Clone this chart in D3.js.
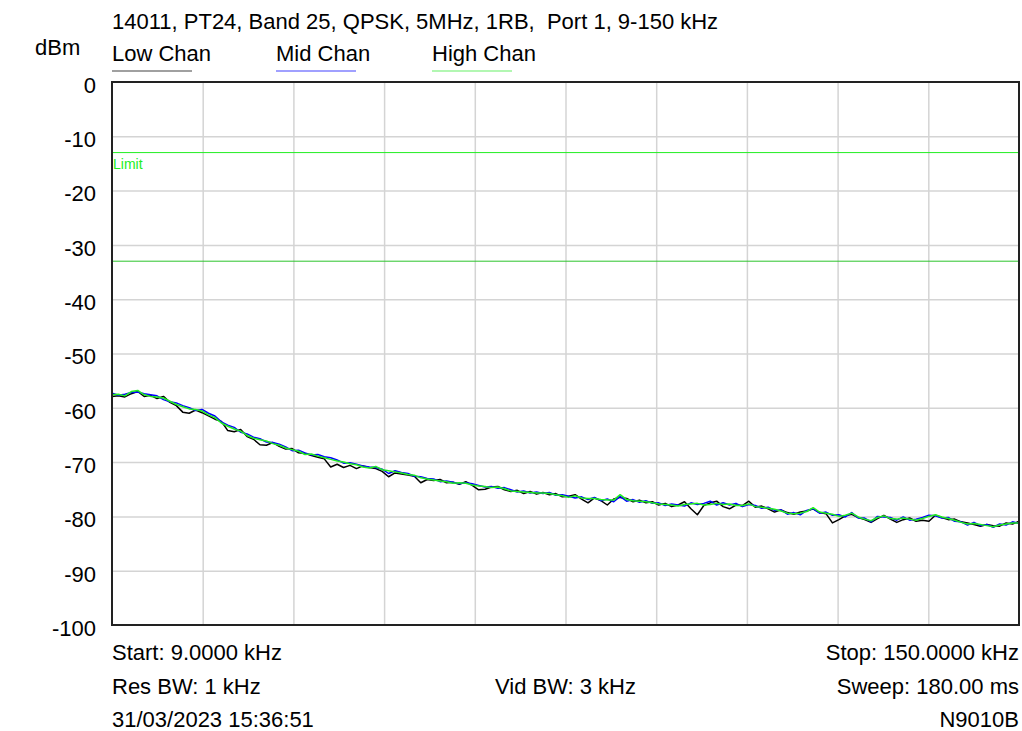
<!DOCTYPE html>
<html>
<head>
<meta charset="utf-8">
<script src="https://cdn.jsdelivr.net/npm/d3@7"></script>
<style>
  html, body { margin: 0; padding: 0; background: #fff; }
  svg { display: block; font-family: "Liberation Sans", Arial, sans-serif; }
  svg text { white-space: pre; }
</style>
</head>
<body>
<svg id="chart" width="1022" height="731"></svg>
<script>
// Sweep: 9 kHz to 150 kHz, one reading per kHz
const freqStart = 9;
const freqStop = 150;
const freqs = d3.range(freqStart, freqStop + 1, 1);

const lowChan = [
  -57.9,-57.8,-58.0,-57.4,-57.0,-57.9,-57.7,-58.3,-57.9,-59.0,
  -59.6,-60.8,-61.0,-60.4,-60.9,-61.5,-62.1,-62.5,-64.2,-64.4,
  -64.0,-65.3,-65.8,-66.8,-66.9,-66.4,-67.1,-67.6,-67.5,-68.3,
  -68.4,-68.8,-69.1,-69.4,-70.9,-70.4,-71.0,-70.6,-71.2,-70.7,
  -71.0,-71.2,-71.7,-72.7,-72.0,-72.2,-72.4,-72.6,-73.8,-73.2,
  -73.4,-73.2,-73.8,-73.7,-74.1,-73.6,-74.3,-75.1,-75.0,-74.6,
  -74.5,-75.1,-75.4,-75.2,-75.8,-75.4,-75.9,-75.6,-76.0,-75.8,
  -76.4,-76.3,-76.0,-76.8,-77.5,-76.6,-77.1,-77.9,-76.8,-76.5,
  -76.7,-77.3,-77.0,-77.5,-77.3,-77.9,-77.6,-78.2,-77.9,-77.3,
  -78.6,-79.7,-78.0,-77.5,-77.2,-78.2,-78.6,-77.9,-78.0,-77.2,
  -78.3,-78.1,-78.6,-79.2,-78.8,-79.3,-79.6,-79.2,-79.0,-78.6,
  -79.3,-79.5,-81.2,-80.6,-79.9,-79.6,-80.2,-80.6,-81.1,-80.4,
  -79.8,-80.5,-81.1,-80.6,-80.3,-80.9,-80.7,-80.9,-79.8,-80.2,
  -80.6,-80.5,-81.0,-81.2,-81.5,-81.8,-81.5,-81.7,-81.8,-81.2,
  -81.4,-80.9
];

const midChan = [
  -57.3,-57.7,-57.5,-57.2,-57.1,-57.4,-57.6,-57.8,-58.5,-58.9,
  -59.1,-59.6,-60.0,-60.5,-60.3,-61.0,-61.5,-62.6,-63.2,-63.6,
  -64.5,-64.8,-65.4,-65.7,-66.3,-66.4,-66.7,-67.2,-67.9,-67.8,
  -68.3,-68.7,-68.6,-69.0,-69.2,-69.6,-70.2,-70.1,-70.4,-70.7,
  -70.9,-71.0,-71.3,-72.1,-71.6,-71.9,-72.1,-72.6,-72.7,-73.0,
  -73.1,-73.6,-73.5,-73.7,-74.0,-73.8,-74.0,-74.3,-74.6,-74.5,
  -74.8,-74.7,-75.1,-75.5,-75.3,-75.7,-75.5,-75.8,-75.6,-76.1,
  -76.0,-76.3,-76.6,-76.4,-76.9,-76.5,-77.1,-76.8,-77.3,-76.3,
  -77.2,-76.9,-77.4,-77.1,-77.6,-77.5,-78.0,-77.7,-77.9,-78.1,
  -77.5,-77.8,-77.6,-77.2,-77.9,-77.5,-77.9,-77.6,-78.2,-77.8,
  -78.0,-78.5,-78.3,-78.9,-78.8,-79.6,-79.3,-79.7,-78.9,-78.6,
  -79.4,-79.2,-79.8,-79.7,-80.1,-79.3,-80.3,-80.3,-81.0,-80.0,
  -80.1,-80.2,-80.7,-80.1,-80.7,-80.5,-80.2,-79.8,-79.9,-80.3,
  -80.2,-80.9,-81.0,-81.6,-81.1,-81.7,-81.5,-82.0,-81.4,-81.6,
  -81.0,-81.3
];

const highChan = [
  -57.6,-57.5,-57.8,-57.0,-56.8,-57.6,-57.9,-58.0,-58.2,-58.8,
  -59.4,-59.8,-60.2,-60.3,-60.6,-61.3,-61.8,-62.8,-63.4,-63.9,
  -64.3,-65.1,-65.6,-65.9,-66.1,-66.6,-66.9,-67.4,-67.7,-68.0,
  -68.6,-68.5,-68.9,-69.2,-69.5,-69.8,-70.0,-70.3,-70.5,-70.9,
  -71.1,-70.8,-71.4,-71.6,-71.8,-72.0,-72.3,-72.4,-72.9,-73.1,
  -73.3,-73.5,-73.6,-73.9,-73.8,-73.9,-74.2,-74.4,-74.5,-74.7,
  -74.6,-74.9,-75.3,-75.4,-75.5,-75.6,-75.7,-75.7,-75.8,-76.0,
  -76.2,-76.5,-76.2,-76.6,-76.7,-76.7,-76.9,-77.0,-77.0,-76.0,
  -76.9,-77.1,-77.2,-77.3,-77.5,-77.7,-77.8,-77.9,-78.1,-77.8,
  -77.7,-77.6,-77.9,-77.8,-77.6,-77.8,-77.7,-78.0,-78.0,-77.7,
  -78.2,-78.3,-78.5,-78.7,-79.0,-79.4,-79.5,-79.4,-79.1,-78.4,
  -79.2,-79.4,-79.6,-80.0,-79.8,-79.4,-80.1,-80.5,-80.8,-80.2,
  -79.9,-80.4,-80.5,-80.3,-80.5,-80.7,-80.4,-80.0,-79.7,-80.1,
  -80.4,-80.7,-81.1,-81.4,-81.3,-81.5,-81.7,-81.9,-81.6,-81.4,
  -81.2,-81.2
];

const seriesNames = ["Low Chan", "Mid Chan", "High Chan"];
const seriesColors = ["#000000", "#0000ff", "#22ee22"];
const legendColors = ["#808080", "#8080ff", "#99f599"];

const yTicks = [0, -10, -20, -30, -40, -50, -60, -70, -80, -90, -100];
const limitLevel = -13;
const refLevel = -33;

const titleText = "14011, PT24, Band 25, QPSK, 5MHz, 1RB,  Port 1, 9-150 kHz";
const footerLeft = ["Start: 9.0000 kHz", "Res BW: 1 kHz", "31/03/2023 15:36:51"];
const footerMid = ["", "Vid BW: 3 kHz", ""];
const footerRight = ["Stop: 150.0000 kHz", "Sweep: 180.00 ms", "N9010B"];

// ---- layout ----
const plot = { left: 112, top: 82, right: 1019, bottom: 625 };
const svg = d3.select("#chart");
const fontSize = 22;

const x = d3.scaleLinear().domain([freqStart, freqStop]).range([plot.left, plot.right]);
const y = d3.scaleLinear().domain([-100, 0]).range([plot.bottom, plot.top]);

// grid
const xGrid = d3.range(1, 10).map(i => freqStart + i * (freqStop - freqStart) / 10);
svg.append("g")
  .attr("transform", `translate(0,${plot.bottom})`)
  .call(d3.axisBottom(x).tickValues(xGrid).tickSize(-(plot.bottom - plot.top)).tickFormat(""))
  .call(g => g.select(".domain").remove())
  .call(g => g.selectAll("line").attr("stroke", "#d4d4d4").attr("stroke-width", 1.5));

svg.append("g")
  .attr("transform", `translate(${plot.left},0)`)
  .call(d3.axisLeft(y).tickValues(yTicks.filter(v => v !== 0 && v !== -100))
        .tickSize(-(plot.right - plot.left)).tickFormat(""))
  .call(g => g.select(".domain").remove())
  .call(g => g.selectAll("line").attr("stroke", "#d4d4d4").attr("stroke-width", 1.5));

// y tick labels, plain hyphen for the minus sign
svg.append("g")
  .attr("transform", `translate(${plot.left},0)`)
  .call(d3.axisLeft(y).tickValues(yTicks).tickSize(0).tickPadding(16).tickFormat(d => String(d)))
  .call(g => g.select(".domain").remove())
  .call(g => g.selectAll("text")
    .attr("font-size", fontSize)
    .attr("font-family", "Liberation Sans, Arial, sans-serif")
    .attr("fill", "#000")
    .attr("dy", "0.47em"));

// limit and reference lines
svg.append("line")
  .attr("x1", plot.left).attr("x2", plot.right)
  .attr("y1", y(limitLevel)).attr("y2", y(limitLevel))
  .attr("stroke", "#22ee22").attr("stroke-width", 1);
svg.append("text")
  .attr("x", plot.left + 1).attr("y", y(limitLevel) + 16)
  .attr("font-size", 14)
  .attr("font-family", "Liberation Sans Narrow, Arial Narrow, sans-serif")
  .attr("fill", "#22ee22")
  .text("Limit");
svg.append("line")
  .attr("x1", plot.left).attr("x2", plot.right)
  .attr("y1", y(refLevel)).attr("y2", y(refLevel))
  .attr("stroke", "#2cc42c").attr("stroke-width", 1);

// traces
const line = d3.line()
  .x((d, i) => x(freqs[i]))
  .y(d => y(d));

svg.append("clipPath").attr("id", "plotclip")
  .append("rect")
  .attr("x", plot.left).attr("y", plot.top)
  .attr("width", plot.right - plot.left).attr("height", plot.bottom - plot.top);

[lowChan, midChan, highChan].forEach((vals, k) => {
  svg.append("path")
    .datum(vals)
    .attr("clip-path", "url(#plotclip)")
    .attr("fill", "none")
    .attr("stroke", seriesColors[k])
    .attr("stroke-width", 1.5)
    .attr("stroke-linejoin", "round")
    .attr("d", line);
});

// plot frame
svg.append("rect")
  .attr("x", plot.left).attr("y", plot.top)
  .attr("width", plot.right - plot.left).attr("height", plot.bottom - plot.top)
  .attr("fill", "none").attr("stroke", "#222").attr("stroke-width", 2);

// title and unit
svg.append("text")
  .attr("x", plot.left).attr("y", 29)
  .attr("font-size", fontSize).attr("fill", "#000")
  .text(titleText);
svg.append("text")
  .attr("x", 35).attr("y", 55)
  .attr("font-size", fontSize).attr("fill", "#000")
  .text("dBm");

// legend
const legendX = [112, 276, 432];
seriesNames.forEach((name, k) => {
  svg.append("text")
    .attr("x", legendX[k]).attr("y", 61)
    .attr("font-size", fontSize).attr("fill", "#000")
    .text(name);
  svg.append("line")
    .attr("x1", legendX[k]).attr("x2", legendX[k] + 80)
    .attr("y1", 71).attr("y2", 71)
    .attr("stroke", legendColors[k]).attr("stroke-width", 1.5);
});

// footer annotations
const footerY = [660, 694, 727];
footerY.forEach((fy, i) => {
  svg.append("text").attr("x", plot.left).attr("y", fy)
    .attr("font-size", fontSize).attr("fill", "#000").text(footerLeft[i]);
  if (footerMid[i]) {
    svg.append("text").attr("x", (plot.left + plot.right) / 2).attr("y", fy)
      .attr("text-anchor", "middle")
      .attr("font-size", fontSize).attr("fill", "#000").text(footerMid[i]);
  }
  svg.append("text").attr("x", plot.right).attr("y", fy)
    .attr("text-anchor", "end")
    .attr("font-size", fontSize).attr("fill", "#000").text(footerRight[i]);
});
</script>
</body>
</html>
